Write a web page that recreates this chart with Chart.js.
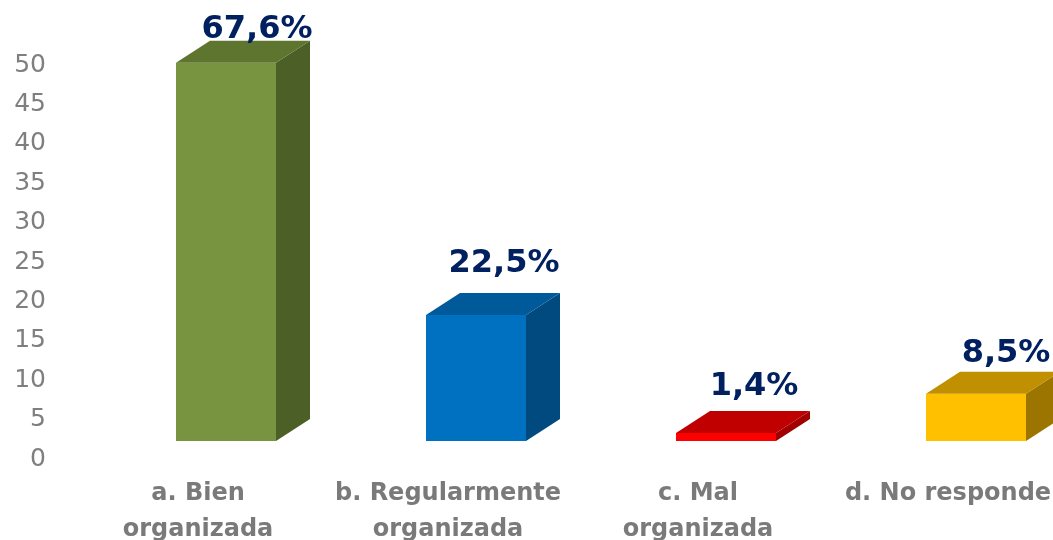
<!DOCTYPE html>
<html>
<head>
<meta charset="utf-8">
<title>Organización</title>
<script src="https://cdn.jsdelivr.net/npm/chart.js@4/dist/chart.umd.min.js"></script>
<style>
    html, body { margin: 0; padding: 0; background: #ffffff; overflow: hidden; width: 1053px; height: 540px; }
    .wrap { width: 1053px; height: 540px; overflow: hidden; }
    canvas { display: block; filter: blur(0.6px); }
</style>
</head>
<body>
<div class="wrap"><canvas id="chart" width="1101" height="540" style="width:1101px;height:540px"></canvas></div>
<script>
var categories = [['a. Bien', 'organizada'], ['b. Regularmente', 'organizada'], ['c. Mal', 'organizada'], 'd. No responde'];
var values = [48, 16, 1, 6];
var percentLabels = ['67,6%', '22,5%', '1,4%', '8,5%'];
var frontColors = ['#789440', '#0070c0', '#ff0000', '#ffc000'];
var topColors = ['#5e752f', '#005a9a', '#c00000', '#c09000'];
var sideColors = ['#4b5f26', '#004a80', '#a00000', '#9c7500'];

// fake 3d: side and top faces hang off the real bar elements
var depthX = 34, depthY = 22;
var labelDx = [31, 28, 28, 30];
var labelLift = [11, 29, 24, 18];

var bars3d = {
    id: 'bars3d',
    afterDatasetsDraw: function (chart) {
        var ctx = chart.ctx;
        chart.getDatasetMeta(0).data.forEach(function (bar, i) {
            var l = bar.x - bar.width / 2, r = bar.x + bar.width / 2, t = bar.y, b = bar.base;
            ctx.save();
            ctx.fillStyle = sideColors[i];
            ctx.beginPath();
            ctx.moveTo(r, t);
            ctx.lineTo(r + depthX, t - depthY);
            ctx.lineTo(r + depthX, b - depthY);
            ctx.lineTo(r, b);
            ctx.closePath();
            ctx.fill();
            ctx.fillStyle = topColors[i];
            ctx.beginPath();
            ctx.moveTo(l, t);
            ctx.lineTo(l + depthX, t - depthY);
            ctx.lineTo(r + depthX, t - depthY);
            ctx.lineTo(r, t);
            ctx.closePath();
            ctx.fill();
            ctx.fillStyle = '#002060';
            ctx.font = 'bold 32px "DejaVu Sans"';
            ctx.textAlign = 'center';
            ctx.textBaseline = 'middle';
            ctx.fillText(percentLabels[i], bar.x + labelDx[i], t - depthY - labelLift[i]);
            ctx.restore();
        });
    }
};

new Chart(document.getElementById('chart'), {
    type: 'bar',
    data: {
        labels: categories,
        datasets: [{
            data: values,
            backgroundColor: frontColors,
            borderWidth: 0,
            barPercentage: 0.4,
            categoryPercentage: 1
        }]
    },
    options: {
        responsive: false,
        animation: false,
        layout: { padding: { top: 47, left: 0, right: 0, bottom: 0 } },
        plugins: { legend: { display: false }, tooltip: { enabled: false } },
        scales: {
            x: {
                grid: { display: false, drawTicks: false },
                border: { display: false },
                afterFit: function (scale) {
                    scale.height = 99;
                    scale.paddingLeft = 0;
                    scale.paddingRight = 0;
                },
                ticks: {
                    color: '#7a7a7a',
                    font: { family: '"DejaVu Sans"', size: 24, weight: 'bold', lineHeight: 1.5 },
                    labelOffset: -28,
                    padding: 35,
                    maxRotation: 0,
                    autoSkip: false
                }
            },
            y: {
                min: 0,
                max: 50,
                grid: { display: false, drawTicks: false },
                border: { display: false },
                afterFit: function (scale) {
                    scale.width = 101;
                    scale.paddingTop = 0;
                    scale.paddingBottom = 0;
                },
                ticks: {
                    stepSize: 5,
                    color: '#7f7f7f',
                    font: { family: '"DejaVu Sans"', size: 25 },
                    labelOffset: 18,
                    padding: 55
                }
            }
        }
    },
    plugins: [bars3d]
});
</script>
</body>
</html>
